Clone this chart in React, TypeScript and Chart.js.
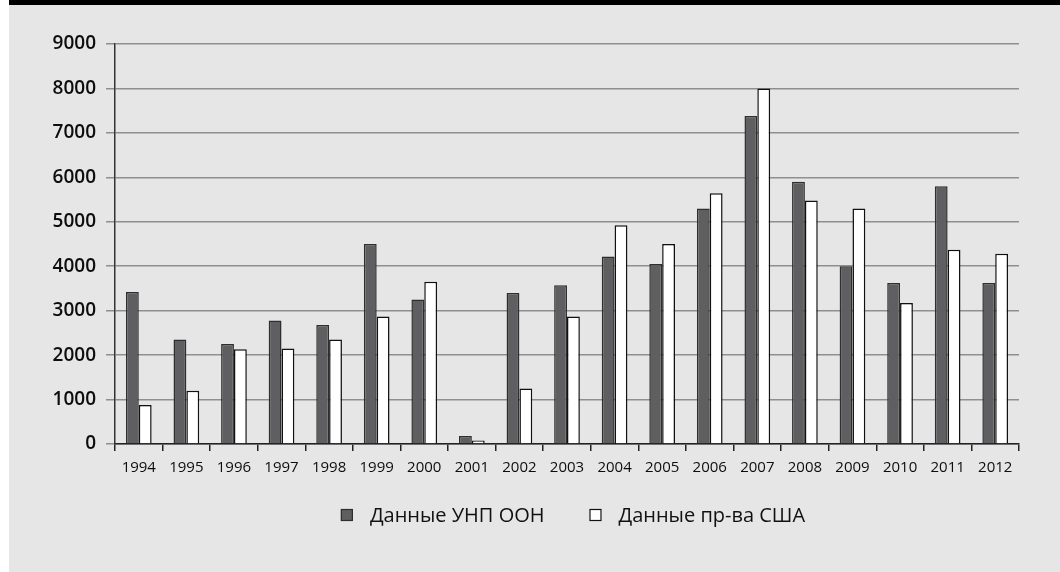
import React, { useEffect, useRef } from "react";
import { Chart, registerables } from "chart.js";

Chart.register(...registerables);

const years = ["1994", "1995", "1996", "1997", "1998", "1999", "2000", "2001", "2002", "2003", "2004", "2005", "2006", "2007", "2008", "2009", "2010", "2011", "2012"];
const unodcData = [3420, 2350, 2250, 2780, 2680, 4500, 3250, 180, 3400, 3570, 4220, 4050, 5300, 7380, 5900, 4000, 3620, 5800, 3620];
const usGovData = [880, 1200, 2130, 2150, 2350, 2870, 3650, 80, 1250, 2870, 4920, 4500, 5640, 8000, 5480, 5300, 3170, 4370, 4280];
const seriesNames = ["Данные УНП ООН", "Данные пр-ва США"];
const yTicks = [0, 1000, 2000, 3000, 4000, 5000, 6000, 7000, 8000, 9000];

const FONT = "'Open Sans', 'Noto Sans', sans-serif";

const bottomLegend = {
  id: "bottomLegend",
  afterDraw(chart: any) {
    const ctx = chart.ctx as CanvasRenderingContext2D;
    const box = 12;
    const boxGap = 17;
    const itemGap = 45;
    const cy = 510;
    const centerX = 564;
    ctx.save();
    ctx.font = `20px ${FONT}`;
    ctx.textBaseline = "middle";
    ctx.textAlign = "left";
    const items = chart.data.datasets.map((ds: any) => ({
      label: ds.label as string,
      fill: ds.backgroundColor as string,
      stroke: ds.borderColor as string,
      w: ctx.measureText(ds.label).width,
    }));
    const total = items.reduce((s: number, it: any) => s + box + boxGap + it.w, 0) + itemGap * (items.length - 1);
    let x = centerX - total / 2;
    items.forEach((it: any) => {
      ctx.fillStyle = it.fill;
      ctx.fillRect(x, cy - box / 2, box, box);
      ctx.strokeStyle = it.stroke;
      ctx.lineWidth = 1.2;
      ctx.strokeRect(x + 0.5, cy - box / 2 + 0.5, box - 1, box - 1);
      x += box + boxGap;
      ctx.fillStyle = "#111";
      ctx.fillText(it.label, x, cy + 1);
      x += it.w + itemGap;
    });
    ctx.restore();
  },
};

export default function App() {
  const ref = useRef<HTMLCanvasElement | null>(null);

  useEffect(() => {
    if (!ref.current) return;
    const chart = new Chart(ref.current, {
      type: "bar",
      data: {
        labels: years,
        datasets: [
          {
            label: seriesNames[0],
            data: unodcData,
            backgroundColor: "#5f5f61",
            borderColor: "#2e2e2e",
            borderWidth: 1.5,
          },
          {
            label: seriesNames[1],
            data: usGovData,
            backgroundColor: "#ffffff",
            borderColor: "#111111",
            borderWidth: 1.5,
          },
        ],
      },
      options: {
        responsive: false,
        animation: false,
        devicePixelRatio: 1,
        datasets: { bar: { categoryPercentage: 0.54, barPercentage: 1.0 } },
        layout: { padding: { top: 39, bottom: 93, left: 0, right: 41 } },
        plugins: {
          tooltip: { enabled: false },
          legend: { display: false },
        },
        scales: {
          x: {
            grid: {
              offset: true,
              drawOnChartArea: false,
              drawTicks: true,
              tickLength: 7,
              color: "#222",
              lineWidth: 1.5,
            },
            border: { display: true, color: "#222", width: 1.5 },
            ticks: {
              color: "#0d0d0d",
              font: { family: FONT, size: 15 },
              padding: 8,
              maxRotation: 0,
              autoSkip: false,
            },
            afterFit: (s: any) => {
              s.height = 35;
            },
          },
          y: {
            min: 0,
            max: 9000,
            afterBuildTicks: (s: any) => {
              s.ticks = yTicks.map((v) => ({ value: v }));
            },
            grid: {
              color: "#8f8f8f",
              lineWidth: 1.5,
              drawTicks: true,
              tickLength: 9,
            },
            border: { display: true, color: "#333", width: 1.5 },
            ticks: {
              color: "#0d0d0d",
              font: { family: FONT, size: 19, weight: "600" },
              padding: 10,
              callback: (v: any) => String(v),
            },
            afterFit: (s: any) => {
              s.width = 106;
            },
          },
        },
      },
      plugins: [bottomLegend],
    });
    return () => chart.destroy();
  }, []);

  return (
    <div
      style={{
        position: "absolute",
        left: 9,
        top: 0,
        width: 1051,
        height: 572,
        background: "#e6e6e6",
        borderTop: "5px solid #000",
        boxSizing: "border-box",
      }}
    >
      <canvas ref={ref} width={1051} height={567} style={{ display: "block" }} />
    </div>
  );
}
